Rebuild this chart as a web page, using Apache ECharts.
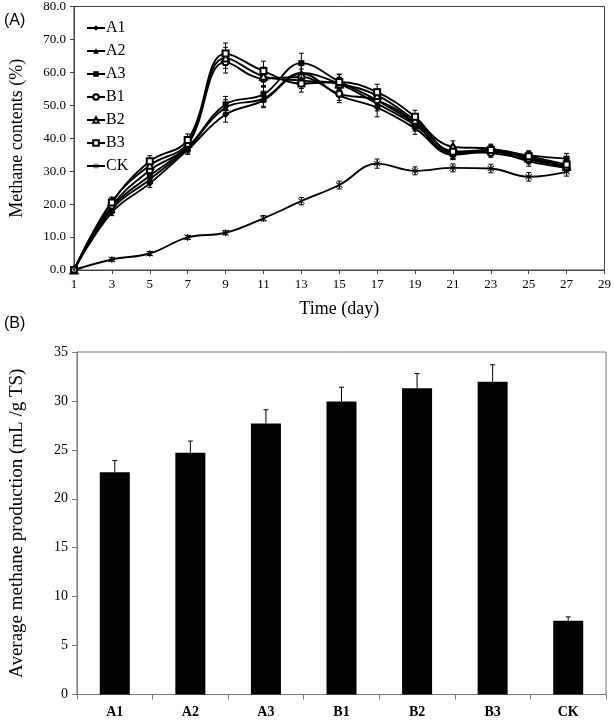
<!DOCTYPE html>
<html>
<head>
<meta charset="utf-8">
<script src="https://cdn.jsdelivr.net/npm/echarts@6/dist/echarts.min.js"></script>
<style>html,body{margin:0;padding:0;background:#fff}#c{width:614px;height:721px}</style>
</head>
<body>
<div id="c"></div>
<script>
// ---- Data ----
const days = [1, 3, 5, 7, 9, 11, 13, 15, 17, 19, 21, 23, 25, 27];
const seriesNames = ['A1', 'A2', 'A3', 'B1', 'B2', 'B3', 'CK'];
const A1 = [0, 17.5, 26.3, 36.5, 47.2, 51.5, 59.6, 53.0, 49.3, 43.0, 35.0, 36.0, 33.0, 31.0];
const A2 = [0, 18.5, 27.5, 37.0, 49.3, 52.0, 59.8, 56.5, 50.5, 44.0, 35.5, 36.0, 34.0, 31.5];
const A3 = [0, 19.0, 28.6, 37.3, 50.3, 53.3, 62.8, 57.2, 51.5, 44.5, 35.2, 36.5, 34.8, 33.8];
const B1 = [0, 19.5, 30.3, 38.0, 63.1, 58.1, 58.6, 53.5, 51.5, 45.0, 36.0, 35.5, 33.5, 31.0];
const B2 = [0, 20.8, 31.8, 38.5, 64.4, 58.8, 57.5, 56.5, 53.0, 45.5, 37.4, 36.8, 34.0, 31.5];
const B3 = [0, 20.5, 33.0, 39.5, 65.7, 60.4, 56.6, 57.1, 54.0, 46.5, 35.9, 36.4, 34.5, 32.0];
const CK = [0, 3.2, 5.0, 9.9, 11.3, 15.7, 20.9, 25.8, 32.3, 30.1, 31.0, 30.8, 28.3, 29.8];
const A1err = [0, 1.0, 1.2, 1.4, 2.3, 2.2, 2.5, 2.2, 2.8, 1.8, 1.5, 1.2, 1.5, 1.2];
const A2err = [0, 1.2, 1.3, 1.5, 2.4, 2.3, 2.6, 2.0, 2.2, 1.8, 1.5, 1.2, 1.3, 1.2];
const A3err = [0, 1.2, 1.4, 1.5, 2.4, 2.4, 3.0, 2.3, 2.3, 2.0, 1.6, 1.3, 1.4, 1.6];
const B1err = [0, 1.3, 1.5, 1.6, 3.3, 2.6, 2.4, 2.0, 2.0, 1.8, 1.6, 1.3, 1.3, 1.2];
const B2err = [0, 1.3, 1.5, 1.6, 3.2, 2.8, 2.4, 2.0, 2.0, 1.9, 1.8, 1.4, 1.4, 1.2];
const B3err = [0, 1.4, 1.7, 1.8, 3.2, 3.0, 2.6, 2.2, 2.4, 2.0, 2.0, 1.5, 1.5, 1.4];
const CKerr = [0, 0.5, 0.6, 0.6, 0.6, 0.8, 1.1, 1.2, 1.4, 1.2, 1.2, 1.3, 1.3, 1.3];

const barCategories = ['A1', 'A2', 'A3', 'B1', 'B2', 'B3', 'CK'];
const barValues = [22.7, 24.7, 27.7, 29.95, 31.3, 31.96, 7.53];
const barErr = [1.2, 1.2, 1.4, 1.45, 1.5, 1.74, 0.4];

const yTicksTop = { min: 0, max: 80, interval: 10 };
const xTicksTop = { min: 1, max: 29, interval: 2 };
const yTicksBottom = { min: 0, max: 35, interval: 5 };

// ---- Styles ----
const serif = 'Liberation Serif';
const asterisk = 'path://M4.4,0 h1.2 v10 h-1.2 Z M0.4,1.6 L1.2,0.8 L9.6,8.4 L8.8,9.2 Z M9.6,1.6 L8.8,0.8 L0.4,8.4 L1.2,9.2 Z';
const symbols = ['diamond', 'triangle', 'rect', 'emptyCircle', 'emptyTriangle', 'emptyRect', asterisk];
const symbolSizes = [7, 7, 6, 6, 7, 6, 7];
const values = [A1, A2, A3, B1, B2, B3, CK];
const errs = [A1err, A2err, A3err, B1err, B2err, B3err, CKerr];

const chart = echarts.init(document.getElementById('c'), null, { renderer: 'canvas' });

function errorBarItem(capHalf, upOnly) {
  return function (params, api) {
    const x = api.value(0), y = api.value(1), e = api.value(2);
    if (!e) return null;
    const top = api.coord([x, y + e]);
    const bot = upOnly ? api.coord([x, y]) : api.coord([x, y - e]);
    const st = { stroke: '#000', lineWidth: 1 };
    const ch = [
      { type: 'line', shape: { x1: top[0], y1: top[1], x2: bot[0], y2: bot[1] }, style: st },
      { type: 'line', shape: { x1: top[0] - capHalf, y1: top[1], x2: top[0] + capHalf, y2: top[1] }, style: st }
    ];
    if (!upOnly) ch.push({ type: 'line', shape: { x1: bot[0] - capHalf, y1: bot[1], x2: bot[0] + capHalf, y2: bot[1] }, style: st });
    return { type: 'group', children: ch };
  };
}

const series = [];
seriesNames.forEach((n, i) => {
  series.push({
    name: n, type: 'line', xAxisIndex: 0, yAxisIndex: 0,
    data: days.map((d, j) => [d, values[i][j]]),
    smooth: 0.4,
    symbol: symbols[i], symbolSize: symbolSizes[i],
    showAllSymbol: true,
    lineStyle: { color: '#000', width: 1.9 },
    itemStyle: { color: '#000', borderWidth: 1.2 },
    z: 3
  });
  series.push({
    type: 'custom', xAxisIndex: 0, yAxisIndex: 0,
    data: days.map((d, j) => [d, values[i][j], errs[i][j]]),
    renderItem: errorBarItem(2.5, false),
    silent: true, z: 2
  });
});
series.push({
  type: 'bar', xAxisIndex: 1, yAxisIndex: 1,
  data: barValues, barWidth: 30,
  itemStyle: { color: '#000' }
});
series.push({
  type: 'custom', xAxisIndex: 1, yAxisIndex: 1,
  data: barValues.map((v, i) => [i, v, barErr[i]]),
  renderItem: errorBarItem(2.5, true), z: 3
});

const axisLineC = '#444';
chart.setOption({
  animation: false,
  backgroundColor: '#fff',
  graphic: [
    { type: 'text', left: 4, top: 13, style: { text: '(A)', font: '16px "Liberation Sans"', fill: '#000' } },
    { type: 'text', left: 4, top: 316, style: { text: '(B)', font: '16px "Liberation Sans"', fill: '#000' } }
  ],
  legend: {
    data: seriesNames,
    orient: 'vertical',
    left: 81, top: 15,
    itemWidth: 18, itemHeight: 7, itemGap: 7,
    textStyle: { fontFamily: serif, fontSize: 16, color: '#000', padding: [0, 0, 0, -4] }
  },
  grid: [
    { left: 68, top: 6, right: 8, height: 264, show: true, borderColor: '#444', borderWidth: 1, backgroundColor: 'transparent' },
    { left: 68, top: 352, right: 8, height: 342.5, show: true, borderColor: '#777', borderWidth: 1, backgroundColor: 'transparent' }
  ],
  xAxis: [
    {
      type: 'value', gridIndex: 0, min: xTicksTop.min, max: xTicksTop.max, interval: xTicksTop.interval,
      name: 'Time (day)', nameLocation: 'middle', nameGap: 30,
      nameTextStyle: { fontFamily: serif, fontSize: 18, color: '#000' },
      axisLine: { lineStyle: { color: axisLineC } },
      axisTick: { show: true, inside: false, length: 4, lineStyle: { color: axisLineC } },
      axisLabel: { fontFamily: serif, fontSize: 13, color: '#000', margin: 8 },
      splitLine: { show: false }
    },
    {
      type: 'category', gridIndex: 1, data: barCategories,
      axisLine: { lineStyle: { color: '#777' } },
      axisTick: { show: true, length: 5, alignWithLabel: false, lineStyle: { color: '#777' } },
      axisLabel: { fontFamily: serif, fontSize: 14, fontWeight: 'bold', color: '#000', margin: 11 }
    }
  ],
  yAxis: [
    {
      type: 'value', gridIndex: 0, min: yTicksTop.min, max: yTicksTop.max, interval: yTicksTop.interval,
      name: 'Methane contents (%)', nameLocation: 'middle', nameGap: 48, nameRotate: 90,
      nameTextStyle: { fontFamily: serif, fontSize: 18, color: '#000' },
      axisLine: { show: true, lineStyle: { color: axisLineC } },
      axisTick: { show: true, length: 4, lineStyle: { color: axisLineC } },
      axisLabel: { fontFamily: serif, fontSize: 13, color: '#000', margin: 8, formatter: v => v.toFixed(1) },
      splitLine: { show: false }
    },
    {
      type: 'value', gridIndex: 1, min: yTicksBottom.min, max: yTicksBottom.max, interval: yTicksBottom.interval,
      name: 'Average methane production (mL /g TS)', nameLocation: 'middle', nameGap: 50, nameRotate: 90,
      nameTextStyle: { fontFamily: serif, fontSize: 19, color: '#000' },
      axisLine: { show: true, lineStyle: { color: '#777' } },
      axisTick: { show: true, length: 5, lineStyle: { color: '#777' } },
      axisLabel: { fontFamily: serif, fontSize: 14, color: '#000', margin: 9 },
      splitLine: { show: false }
    }
  ],
  series: series
});
</script>
</body>
</html>
